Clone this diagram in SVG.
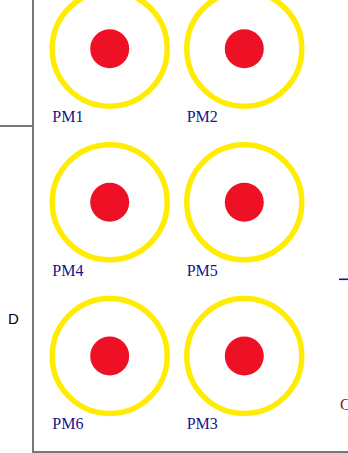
<svg xmlns="http://www.w3.org/2000/svg" width="348" height="453" viewBox="0 0 348 453">
<style>
.ring{fill:none;stroke:#ffec00;stroke-width:5.5}
.dot{fill:#ee1125}
.lbl{font-family:"Liberation Serif","Times New Roman",serif;font-size:16px;fill:#14148c}
.frame{stroke:#777;stroke-width:2;fill:none}
</style>
<rect width="348" height="453" fill="#fff"/>
<g id="connectors">
<path class="frame" d="M33 0V452H348"/>
<path class="frame" d="M0 126H33"/>
<line x1="339" y1="279.3" x2="348" y2="279.3" stroke="#14148c" stroke-width="1.6"/>
</g>
<g id="PM1"><circle class="ring" cx="109.7" cy="48.7" r="57.5"/><circle class="dot" cx="109.7" cy="48.7" r="19.5"/><text class="lbl" x="52.3" y="121.7">PM1</text></g>
<g id="PM2"><circle class="ring" cx="244.3" cy="48.7" r="57.5"/><circle class="dot" cx="244.3" cy="48.7" r="19.5"/><text class="lbl" x="186.7" y="121.7">PM2</text></g>
<g id="PM4"><circle class="ring" cx="109.7" cy="202.3" r="57.5"/><circle class="dot" cx="109.7" cy="202.3" r="19.5"/><text class="lbl" x="52.3" y="275.5">PM4</text></g>
<g id="PM5"><circle class="ring" cx="244.3" cy="202.3" r="57.5"/><circle class="dot" cx="244.3" cy="202.3" r="19.5"/><text class="lbl" x="186.7" y="275.5">PM5</text></g>
<g id="PM6"><circle class="ring" cx="109.7" cy="356" r="57.5"/><circle class="dot" cx="109.7" cy="356" r="19.5"/><text class="lbl" x="52.3" y="429">PM6</text></g>
<g id="PM3"><circle class="ring" cx="244.3" cy="356" r="57.5"/><circle class="dot" cx="244.3" cy="356" r="19.5"/><text class="lbl" x="186.7" y="429">PM3</text></g>
<text x="8" y="324" font-family="'Liberation Sans',Arial,sans-serif" font-size="15" fill="#000">D</text>
<text x="340" y="410" font-family="'Liberation Serif','Times New Roman',serif" font-size="16" fill="#8b1a1a">C</text>
</svg>
